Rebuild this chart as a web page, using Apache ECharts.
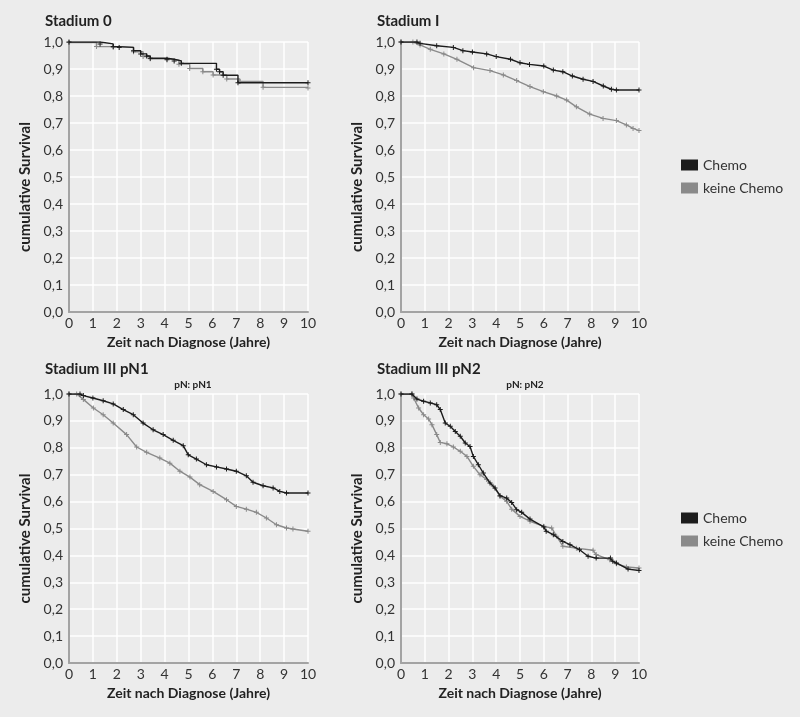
<!DOCTYPE html>
<html>
<head>
<meta charset="utf-8">
<script src="https://cdn.jsdelivr.net/npm/echarts@6/dist/echarts.min.js"></script>
<style>
html,body{margin:0;padding:0;background:#ececec;}
#c{width:800px;height:717px;}
</style>
</head>
<body>
<div id="c"></div>
<script>
// ---- Data (time in years, cumulative survival) ----
const panelTitles = ['Stadium 0', 'Stadium I', 'Stadium III pN1', 'Stadium III pN2'];
const panelSubtitles = ['', '', 'pN: pN1', 'pN: pN2'];
const seriesNames = ['Chemo', 'keine Chemo'];
const xTicks = [0,1,2,3,4,5,6,7,8,9,10];

// Stadium 0
const s0ChemoT = [0, 1.3, 1.85, 2.1, 2.7, 3.0, 3.25, 3.4, 4.1, 4.4, 4.7, 6.17, 6.3, 6.45, 7.07, 10];
const s0ChemoS = [1.0, 0.993, 0.983, 0.98, 0.968, 0.956, 0.948, 0.94, 0.936, 0.93, 0.921, 0.899, 0.89, 0.877, 0.849, 0.849];
const s0KeineT = [0, 1.15, 1.85, 2.7, 3.1, 3.4, 4.1, 4.6, 5.05, 5.6, 6.03, 6.6, 7.15, 8.12, 10];
const s0KeineS = [0.998, 0.983, 0.98, 0.964, 0.946, 0.938, 0.933, 0.918, 0.902, 0.89, 0.878, 0.863, 0.854, 0.832, 0.83];

// Stadium I
const s1ChemoT = [0, 0.67, 0.8, 1.5, 2.2, 2.6, 3.0, 3.6, 4.0, 4.6, 5.0, 5.4, 6.0, 6.4, 6.8, 7.2, 7.65, 8.07, 8.5, 8.84, 9.05, 10];
const s1ChemoS = [1.0, 1.0, 0.995, 0.986, 0.98, 0.968, 0.963, 0.956, 0.946, 0.936, 0.923, 0.917, 0.911, 0.896, 0.89, 0.874, 0.862, 0.854, 0.837, 0.825, 0.822, 0.822];
const s1KeineT = [0, 0.5, 0.8, 1.23, 1.8, 2.35, 3.05, 3.74, 4.3, 4.86, 5.42, 5.98, 6.54, 6.96, 7.37, 7.93, 8.49, 9.05, 9.47, 9.75, 10];
const s1KeineS = [1.0, 1.0, 0.989, 0.973, 0.956, 0.936, 0.905, 0.894, 0.878, 0.857, 0.835, 0.816, 0.8, 0.785, 0.76, 0.733, 0.717, 0.709, 0.693, 0.68, 0.672];

// Stadium III pN1
const s3ChemoT = [0, 0.46, 0.6, 1.0, 1.43, 1.85, 2.27, 2.69, 3.1, 3.52, 3.94, 4.36, 4.78, 4.99, 5.33, 5.75, 6.17, 6.59, 7.0, 7.42, 7.7, 8.12, 8.54, 8.82, 9.1, 10];
const s3ChemoS = [1.0, 1.0, 0.994, 0.985, 0.975, 0.963, 0.942, 0.923, 0.892, 0.867, 0.849, 0.828, 0.808, 0.774, 0.758, 0.737, 0.729, 0.721, 0.713, 0.696, 0.672, 0.659, 0.651, 0.638, 0.632, 0.632];
const s3KeineT = [0, 0.32, 0.6, 1.02, 1.43, 1.85, 2.41, 2.83, 3.25, 3.8, 4.22, 4.64, 5.06, 5.47, 6.03, 6.59, 7.0, 7.42, 7.84, 8.26, 8.68, 9.1, 9.37, 10];
const s3KeineS = [1.0, 1.0, 0.98, 0.948, 0.923, 0.892, 0.849, 0.803, 0.783, 0.762, 0.743, 0.713, 0.691, 0.663, 0.638, 0.607, 0.582, 0.572, 0.56, 0.539, 0.514, 0.502, 0.498, 0.49];

// Stadium III pN2
const s4ChemoT = [0, 0.46, 0.67, 0.95, 1.23, 1.5, 1.65, 1.86, 2.07, 2.28, 2.49, 2.7, 2.9, 3.04, 3.25, 3.46, 3.74, 3.95, 4.16, 4.44, 4.65, 4.86, 5.07, 5.42, 6.0, 6.1, 6.4, 6.8, 7.1, 7.5, 7.86, 8.2, 8.8, 8.9, 9.05, 9.54, 10];
const s4ChemoS = [1.0, 1.0, 0.981, 0.973, 0.967, 0.96, 0.942, 0.892, 0.88, 0.861, 0.843, 0.818, 0.805, 0.768, 0.737, 0.706, 0.669, 0.651, 0.622, 0.613, 0.597, 0.57, 0.56, 0.535, 0.506, 0.49, 0.477, 0.452, 0.44, 0.421, 0.397, 0.39, 0.39, 0.378, 0.372, 0.349, 0.344];
const s4KeineT = [0, 0.46, 0.53, 0.74, 0.95, 1.16, 1.3, 1.5, 1.65, 1.93, 2.2, 2.49, 2.77, 3.04, 3.32, 3.6, 3.88, 4.16, 4.44, 4.65, 5.0, 5.42, 6.0, 6.33, 6.54, 6.8, 7.37, 8.07, 8.2, 8.77, 9.05, 9.47, 10];
const s4KeineS = [1.0, 1.0, 0.985, 0.948, 0.923, 0.907, 0.886, 0.849, 0.82, 0.815, 0.803, 0.787, 0.768, 0.731, 0.7, 0.682, 0.657, 0.62, 0.601, 0.572, 0.545, 0.527, 0.508, 0.502, 0.471, 0.434, 0.427, 0.419, 0.403, 0.384, 0.369, 0.357, 0.353];

const panelData = [
  [[s0ChemoT, s0ChemoS], [s0KeineT, s0KeineS]],
  [[s1ChemoT, s1ChemoS], [s1KeineT, s1KeineS]],
  [[s3ChemoT, s3ChemoS], [s3KeineT, s3KeineS]],
  [[s4ChemoT, s4ChemoS], [s4KeineT, s4KeineS]]
];
const stepPanels = [true, false, false, false];

// ---- Layout ----
const FONT = 'Lato';
const colors = ['#1c1c1c', '#8a8a8a'];
const grids = [
  {left: 69, top: 42, width: 239, height: 270},
  {left: 401, top: 42, width: 238, height: 270},
  {left: 69, top: 394, width: 239, height: 269},
  {left: 401, top: 394, width: 238, height: 269}
];
const plusPath = 'path://M4,0h2v4h4v2h-4v4h-2v-4h-4v-2h4z';

const zip = (t, s) => t.map((v, i) => [v, s[i]]);

const xAxes = grids.map((g, i) => ({
  type: 'value', gridIndex: i, min: 0, max: 10, interval: 1,
  name: 'Zeit nach Diagnose (Jahre)', nameLocation: 'middle', nameGap: 23,
  nameTextStyle: {fontFamily: FONT, fontWeight: 'bold', fontSize: 14, color: '#222'},
  axisLine: {show: true, onZero: false, lineStyle: {color: '#a3a3a3', width: 2}},
  axisTick: {show: false},
  axisLabel: {fontFamily: FONT, fontSize: 14, color: '#333', margin: 4},
  splitLine: {show: true, lineStyle: {color: '#ffffff', width: 1.5}}
}));
const yAxes = grids.map((g, i) => ({
  type: 'value', gridIndex: i, min: 0, max: 1, interval: 0.1,
  name: 'cumulative Survival', nameLocation: 'middle', nameGap: 36,
  nameTextStyle: {fontFamily: FONT, fontWeight: 'bold', fontSize: 15, color: '#222', padding: [0, 20, 0, 0]},
  axisLine: {show: true, onZero: false, lineStyle: {color: '#a3a3a3', width: 2}},
  axisTick: {show: false},
  axisLabel: {fontFamily: FONT, fontSize: 14, color: '#333', margin: 6,
    formatter: v => v.toFixed(1).replace('.', ',')},
  splitLine: {show: true, lineStyle: {color: '#ffffff', width: 1.5}}
}));

const series = [];
panelData.forEach((pd, p) => {
  pd.forEach((curve, k) => {
    series.push({
      type: 'line', name: seriesNames[k], xAxisIndex: p, yAxisIndex: p,
      data: zip(curve[0], curve[1]),
      step: stepPanels[p] ? 'end' : false,
      showSymbol: true, symbol: plusPath, symbolSize: 5,
      itemStyle: {color: colors[k]},
      lineStyle: {color: colors[k], width: 1.4},
      z: k === 0 ? 3 : 2,
      animation: false
    });
  });
});

const titleStyle = {fontFamily: FONT, fontWeight: 'bold', fontSize: 15, color: '#222'};
const titles = [
  {text: panelTitles[0], left: 40, top: 9},
  {text: panelTitles[1], left: 372, top: 9},
  {text: panelTitles[2], left: 40, top: 357},
  {text: panelTitles[3], left: 372, top: 357}
].map(t => Object.assign(t, {textStyle: titleStyle}));
titles.push({text: panelSubtitles[2], left: 188, top: 375, textAlign: 'center',
  textStyle: {fontFamily: FONT, fontWeight: 'bold', fontSize: 10, color: '#222'}});
titles.push({text: panelSubtitles[3], left: 520, top: 375, textAlign: 'center',
  textStyle: {fontFamily: FONT, fontWeight: 'bold', fontSize: 10, color: '#222'}});

const legendCommon = {
  data: seriesNames, orient: 'vertical', icon: 'rect', itemWidth: 17, itemHeight: 11, itemGap: 9,
  textStyle: {fontFamily: FONT, fontSize: 14, color: '#333'}, selectedMode: false
};

const chart = echarts.init(document.getElementById('c'), null, {renderer: 'canvas'});
chart.setOption({
  backgroundColor: '#ececec',
  animation: false,
  title: titles,
  legend: [
    Object.assign({left: 676, top: 153}, legendCommon),
    Object.assign({left: 676, top: 506}, legendCommon)
  ],
  grid: grids,
  xAxis: xAxes,
  yAxis: yAxes,
  series: series
});
</script>
</body>
</html>
